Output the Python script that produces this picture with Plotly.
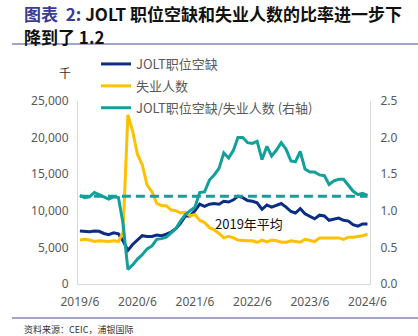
import plotly.graph_objects as go

months = [f"{y}-{m:02d}-01" for y in range(2019, 2025) for m in range(1, 13)]
months = months[5:5 + 61]  # 2019/6 .. 2024/6

jolt_openings = [
    7250, 7200, 7150, 7250, 7200, 6900, 6750,
    7000, 6850, 5900, 4600, 5400, 6000, 6600, 6500, 6500, 6700, 6600, 6800,
    7100, 7600, 8300, 9300, 9300, 10000, 10900, 10600, 10900, 11000, 10900, 11300,
    11200, 11500, 12000, 11800, 11400, 11300, 11100, 10200, 10800, 10500, 10800, 11000,
    10500, 9900, 9700, 10300, 9600, 9200, 8900, 9400, 9300, 8700, 8900, 9000,
    8700, 8600, 8100, 7900, 8200, 8200,
]
unemployed = [
    6000, 6100, 6000, 5800, 5900, 5800, 5800,
    5900, 5800, 7100, 23100, 20900, 17700, 16300, 13500, 12600, 11000, 10700, 10700,
    10100, 10000, 9700, 9800, 9300, 9500, 8700, 8400, 7700, 7400, 6900, 6300,
    6500, 6300, 6000, 5900, 5900, 5900, 5700, 6000, 5750, 6000, 5900, 5700,
    5700, 5900, 5800, 5700, 6100, 6000, 5800, 6300, 6300, 6400, 6300, 6300,
    6100, 6400, 6400, 6500, 6600, 6800,
]
ratio = [
    1.21, 1.18, 1.19, 1.25, 1.22, 1.19, 1.16,
    1.19, 1.18, 0.83, 0.20, 0.26, 0.34, 0.40, 0.48, 0.52, 0.61, 0.62, 0.64,
    0.70, 0.76, 0.86, 0.95, 1.00, 1.05, 1.25, 1.26, 1.42, 1.49, 1.58, 1.79,
    1.72, 1.83, 2.00, 2.00, 1.93, 1.92, 1.95, 1.70, 1.88, 1.75, 1.83, 1.93,
    1.84, 1.68, 1.67, 1.81, 1.57, 1.53, 1.53, 1.49, 1.48, 1.36, 1.41, 1.43,
    1.43, 1.34, 1.27, 1.22, 1.24, 1.21,
]
avg_2019 = [1.2] * len(months)

tick_vals = ["2019-06-01", "2020-06-01", "2021-06-01", "2022-06-01", "2023-06-01", "2024-06-01"]
tick_text = ["2019/6", "2020/6", "2021/6", "2022/6", "2023/6", "2024/6"]

NAVY = "#0B2D83"
YELLOW = "#FFC000"
TEAL = "#12A09A"
GRAY = "#595959"
CJK = "Noto Sans CJK SC"

fig = go.Figure()
fig.add_trace(go.Scatter(x=months, y=avg_2019, yaxis="y2", mode="lines",
                         line=dict(color=TEAL, width=3, dash="9px,5px"), showlegend=False))
fig.add_trace(go.Scatter(x=months, y=jolt_openings, mode="lines", name="JOLT职位空缺",
                         legendgroup="a", line=dict(color=NAVY, width=3)))
fig.add_trace(go.Scatter(x=months, y=unemployed, mode="lines", name="失业人数",
                         legendgroup="b", line=dict(color=YELLOW, width=3)))
fig.add_trace(go.Scatter(x=months, y=ratio, yaxis="y2", mode="lines",
                         name="JOLT职位空缺/失业人数 (右轴)", legendgroup="c",
                         line=dict(color=TEAL, width=3)))

L, R, T, B = 78, 48, 101, 52
PW, PH = 418 - L - R, 336 - T - B

def px(xp):
    return (xp - L) / PW

def py(yp):
    return (336 - B - yp) / PH

tickfont = dict(family="Noto Sans", size=12, color=GRAY)
fig.update_layout(
    width=418, height=336,
    margin=dict(l=L, r=R, t=T, b=B),
    paper_bgcolor="white", plot_bgcolor="white",
    font=dict(family=CJK, color=GRAY, size=12),
    xaxis=dict(range=["2019-05-20", "2024-06-17"], tickvals=tick_vals, ticktext=tick_text,
               showgrid=False, showline=True, linecolor="#D9D9D9", linewidth=1,
               ticks="outside", ticklen=7, tickcolor="rgba(0,0,0,0)",
               tickfont=tickfont, zeroline=False),
    yaxis=dict(range=[0, 25000], dtick=5000, tickformat=",", showgrid=False,
               showline=True, linecolor="#D9D9D9", linewidth=1,
               ticks="outside", ticklen=6, tickcolor="rgba(0,0,0,0)", zeroline=False,
               tickfont=tickfont),
    yaxis2=dict(range=[0, 2.5], dtick=0.5, tickformat=".1f", overlaying="y", side="right",
                showgrid=False, showline=True, linecolor="#D9D9D9", linewidth=1,
                ticks="outside", ticklen=7, tickcolor="rgba(0,0,0,0)",
                zeroline=False, tickfont=tickfont),
    legend=dict(x=px(96), y=py(49), xanchor="left", yanchor="top", bgcolor="rgba(0,0,0,0)",
                font=dict(family=CJK, size=13, color=GRAY), tracegroupgap=2),
    showlegend=True,
)

annotations = [
    dict(x=px(22), y=py(14), xref="paper", yref="paper", xanchor="left", yanchor="middle",
         showarrow=False,
         text="<b><span style='color:#3A3C96'>图表  2:</span> JOLT 职位空缺和失业人数的比率进一步下</b>",
         font=dict(family=CJK, size=17, color="#111111")),
    dict(x=px(22), y=py(36), xref="paper", yref="paper", xanchor="left", yanchor="middle",
         showarrow=False, text="<b>降到了 1.2</b>",
         font=dict(family=CJK, size=17, color="#111111")),
    dict(x=px(65), y=py(72), xref="paper", yref="paper", xanchor="center", yanchor="middle",
         showarrow=False, text="千", font=dict(family=CJK, size=12, color="#333333")),
    dict(x=px(249), y=py(223), xref="paper", yref="paper", xanchor="center", yanchor="middle",
         showarrow=False, text="2019年平均", font=dict(family=CJK, size=13, color="#111111")),
    dict(x=px(22), y=py(329), xref="paper", yref="paper", xanchor="left", yanchor="middle",
         showarrow=False, text="资料来源：CEIC，浦银国际", font=dict(family=CJK, size=9, color="#333333")),
]
fig.update_layout(annotations=annotations)

shapes = [
    dict(type="line", xref="paper", yref="paper", x0=px(12), x1=px(418), y0=py(44), y1=py(44),
         line=dict(color="#A3A3CC", width=2)),
    dict(type="line", xref="paper", yref="paper", x0=px(12), x1=px(418), y0=py(318), y1=py(318),
         line=dict(color="#A3A3CC", width=2)),
]
fig.update_layout(shapes=shapes)

fig.write_html("out.html")
